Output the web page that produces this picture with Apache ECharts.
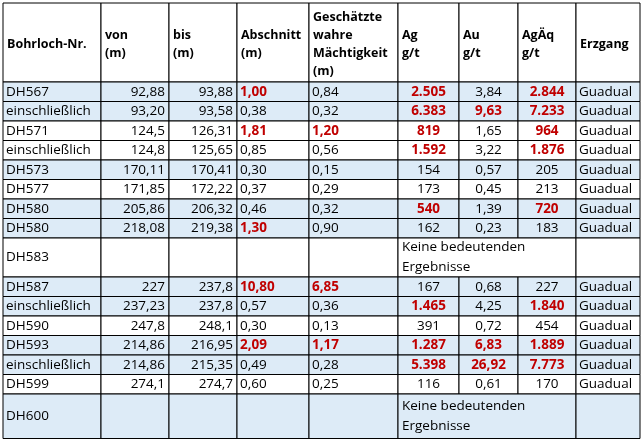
<!DOCTYPE html>
<html><head><meta charset="utf-8">
<script src="https://cdn.jsdelivr.net/npm/echarts@6/dist/echarts.min.js"></script>
<style>html,body{margin:0;padding:0;background:#fff}#c{width:643px;height:445px}</style>
</head><body><div id="c"></div>
<script>
// Tabelle: Bohrergebnisse
var headers = ['Bohrloch-Nr.', 'von\n(m)', 'bis\n(m)', 'Abschnitt\n(m)', 'Geschätzte\nwahre\nMächtigkeit\n(m)', 'Ag\ng/t', 'Au\ng/t', 'AgÄq\ng/t', 'Erzgang'];
var holes = ['DH567', 'einschließlich', 'DH571', 'einschließlich', 'DH573', 'DH577', 'DH580', 'DH580', 'DH583', 'DH587', 'einschließlich', 'DH590', 'DH593', 'einschließlich', 'DH599', 'DH600'];
var von = ['92,88', '93,20', '124,5', '124,8', '170,11', '171,85', '205,86', '218,08', '', '227', '237,23', '247,8', '214,86', '214,86', '274,1', ''];
var bis = ['93,88', '93,58', '126,31', '125,65', '170,41', '172,22', '206,32', '219,38', '', '237,8', '237,8', '248,1', '216,95', '215,35', '274,7', ''];
var abschnitt = ['1,00', '0,38', '1,81', '0,85', '0,30', '0,37', '0,46', '1,30', '', '10,80', '0,57', '0,30', '2,09', '0,49', '0,60', ''];
var maechtigkeit = ['0,84', '0,32', '1,20', '0,56', '0,15', '0,29', '0,32', '0,90', '', '6,85', '0,36', '0,13', '1,17', '0,28', '0,25', ''];
var ag = ['2.505', '6.383', '819', '1.592', '154', '173', '540', '162', 'Keine bedeutenden\nErgebnisse', '167', '1.465', '391', '1.287', '5.398', '116', 'Keine bedeutenden\nErgebnisse'];
var au = ['3,84', '9,63', '1,65', '3,22', '0,57', '0,45', '1,39', '0,23', '', '0,68', '4,25', '0,72', '6,83', '26,92', '0,61', ''];
var agaeq = ['2.844', '7.233', '964', '1.876', '205', '213', '720', '183', '', '227', '1.840', '454', '1.889', '7.773', '170', ''];
var erzgang = ['Guadual', 'Guadual', 'Guadual', 'Guadual', 'Guadual', 'Guadual', 'Guadual', 'Guadual', '', 'Guadual', 'Guadual', 'Guadual', 'Guadual', 'Guadual', 'Guadual', ''];
// rot hervorgehobene Spalten je Zeile
var redCols = [[3, 5, 7], [5, 6, 7], [3, 4, 5, 7], [5, 7], [], [], [5, 7], [3], [], [3, 4], [5, 7], [], [3, 4, 5, 6, 7], [5, 6, 7], [], []];
var blueRows = [1, 1, 0, 0, 1, 0, 1, 1, 0, 1, 1, 0, 1, 1, 0, 1];

var colX = [3, 101, 169, 237, 309, 398, 459, 518, 576, 640];
var align = ['left', 'right', 'right', 'left', 'left', 'center', 'center', 'center', 'left'];
var rowY = [3, 82];
var rowH = [19.5, 19.5, 19.5, 19.5, 19.5, 19.5, 19.5, 19.5, 39, 19.5, 19.5, 19.5, 19.5, 19.5, 19.5, 44.5];
rowH.forEach(function (h) { rowY.push(rowY[rowY.length - 1] + h); });

var cols = [holes, von, bis, abschnitt, maechtigkeit, ag, au, agaeq, erzgang];
var font = '"Open Sans", sans-serif';
var els = [];

function cellText(c, x0, x1, y0, y1, txt, style) {
	var a = align[c], x = a === 'left' ? x0 + 3 : a === 'right' ? x1 - 4 : (x0 + x1) / 2;
	els.push({ type: 'text', x: x, y: (y0 + y1) / 2, style: Object.assign({ text: txt, align: a, verticalAlign: 'middle', font: '13.5px ' + font, fill: '#000', lineHeight: 18 }, style || {}) });
}

// Kopfzeile
for (var c = 0; c < 9; c++) {
	els.push({ type: 'rect', shape: { x: colX[c], y: rowY[0], width: colX[c + 1] - colX[c], height: rowY[1] - rowY[0] }, style: { fill: '#fff', stroke: '#000', lineWidth: 1 } });
	var hs = { font: 'bold 12.5px ' + font, align: 'left', lineHeight: 18 };
	els.push({ type: 'text', x: colX[c] + 4, y: (rowY[0] + rowY[1]) / 2 + 2, style: Object.assign({ text: headers[c], verticalAlign: 'middle', fill: '#000' }, hs) });
}

// Datenzeilen
holes.forEach(function (h, r) {
	var y0 = rowY[r + 1], y1 = rowY[r + 2];
	for (var c = 0; c < 9; c++) {
		var x0 = colX[c], x1 = colX[c + 1];
		var merged = ag[r].indexOf('Keine') === 0;
		if (merged && (c === 6 || c === 7)) continue;
		if (merged && c === 5) x1 = colX[8];
		els.push({ type: 'rect', shape: { x: x0, y: y0, width: x1 - x0, height: y1 - y0 }, style: { fill: blueRows[r] ? '#ddebf7' : '#fff', stroke: '#000', lineWidth: 1 } });
		var txt = cols[c][r];
		if (!txt) continue;
		if (merged && c === 5) {
			els.push({ type: 'text', x: x0 + 4, y: (y0 + y1) / 2, style: { text: txt, align: 'left', verticalAlign: 'middle', font: '13.5px ' + font, fill: '#000', lineHeight: 20 } });
			continue;
		}
		var red = redCols[r].indexOf(c) >= 0;
		cellText(c, x0, x1, y0, y1, txt, red ? { fill: '#c00000', font: 'bold 13.5px ' + font } : null);
	}
});

var chart = echarts.init(document.getElementById('c'));
chart.setOption({ graphic: { elements: els } });
</script>
</body></html>
